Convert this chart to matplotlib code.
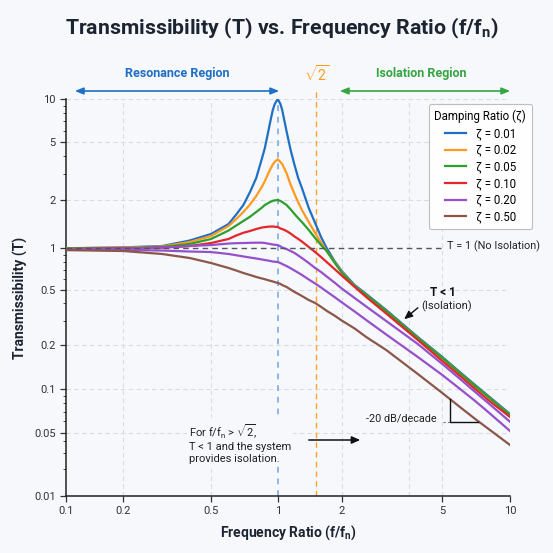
import numpy as np
import matplotlib
matplotlib.use("Agg")
import matplotlib.pyplot as plt
from matplotlib.ticker import FixedLocator, NullFormatter, LogLocator

plt.rcParams['font.family'] = ['Roboto', 'DejaVu Sans']
plt.rcParams['mathtext.fontset'] = 'custom'
plt.rcParams['mathtext.rm'] = 'Roboto'
plt.rcParams['mathtext.it'] = 'Roboto:italic'
plt.rcParams['mathtext.bf'] = 'Roboto:bold'

# ---------------- data ----------------
freq_ratio = [0.1, 0.2, 0.3, 0.4, 0.5, 0.6, 0.65, 0.7, 0.75, 0.8, 0.85, 0.875, 0.9, 0.925, 0.95, 0.97,
              1.0, 1.03, 1.05, 1.1, 1.15, 1.2, 1.25, 1.3, 1.4, 1.5, 1.6, 1.7, 1.85, 2.0, 2.25, 2.5,
              3.0, 4.0, 5.0, 6.0, 7.0, 8.0, 10.0]

T_z001 = [1.0, 1.014, 1.033, 1.118, 1.228, 1.417, 1.624, 1.862, 2.271, 2.836, 3.896, 4.57, 5.62, 6.92, 8.38, 9.23,
          10.0, 9.23, 8.38, 5.99, 4.43, 3.486, 2.822, 2.42, 1.783, 1.438, 1.175, 1.004, 0.810, 0.686, 0.543, 0.468,
          0.3583, 0.2285, 0.1656, 0.1302, 0.1065, 0.0897, 0.0673]
T_z002 = [1.0, 1.011, 1.026, 1.094, 1.193, 1.377, 1.522, 1.684, 1.875, 2.131, 2.478, 2.704, 2.975, 3.246, 3.514, 3.668,
          3.818, 3.657, 3.542, 3.071, 2.558, 2.199, 1.930, 1.733, 1.458, 1.245, 1.090, 0.956, 0.796, 0.674, 0.534, 0.460,
          0.3524, 0.2247, 0.1631, 0.1282, 0.1048, 0.0882, 0.0662]
T_z005 = [0.997, 1.004, 1.019, 1.064, 1.143, 1.291, 1.387, 1.480, 1.573, 1.684, 1.796, 1.862, 1.902, 1.944, 1.977, 1.988,
          2.0, 1.972, 1.944, 1.862, 1.750, 1.636, 1.538, 1.458, 1.30, 1.159, 1.048, 0.956, 0.790, 0.669, 0.534, 0.460,
          0.3524, 0.2247, 0.1631, 0.1282, 0.1048, 0.0882, 0.0662]
T_z010 = [0.988, 0.997, 1.011, 1.033, 1.079, 1.143, 1.202, 1.25, 1.282, 1.319, 1.348, 1.355, 1.363, 1.366, 1.367, 1.363,
          1.358, 1.329, 1.319, 1.282, 1.236, 1.184, 1.143, 1.102, 1.019, 0.94, 0.865, 0.796, 0.709, 0.636, 0.526, 0.4448,
          0.338, 0.2175, 0.1554, 0.1227, 0.100, 0.0839, 0.0642]
T_z020 = [0.988, 0.997, 1.011, 1.033, 1.048, 1.071, 1.076, 1.079, 1.082, 1.084, 1.084, 1.079, 1.071, 1.064, 1.056, 1.052,
          1.048, 1.029, 1.011, 0.988, 0.956, 0.925, 0.887, 0.851, 0.783, 0.721, 0.674, 0.626, 0.566, 0.513, 0.4376, 0.3799,
          0.2983, 0.2033, 0.1483, 0.1171, 0.0954, 0.0801, 0.0595]
T_z020b = [0.98, 0.975, 0.964, 0.948, 0.94, 0.91, 0.891, 0.873, 0.858, 0.844, 0.83, 0.823, 0.817, 0.810, 0.803, 0.80,
           0.796, 0.783, 0.77, 0.745, 0.718, 0.691, 0.666, 0.642, 0.5955, 0.557, 0.521, 0.4876, 0.4448, 0.4074, 0.3496, 0.3032,
           0.2382, 0.1656, 0.1247, 0.100, 0.0827, 0.0694, 0.0514]
T_z050 = [0.97, 0.956, 0.91, 0.851, 0.783, 0.721, 0.691, 0.663, 0.642, 0.621, 0.605, 0.598, 0.59, 0.583, 0.576, 0.57,
          0.562, 0.553, 0.543, 0.526, 0.504, 0.4837, 0.468, 0.4522, 0.423, 0.4027, 0.3773, 0.3535, 0.3264, 0.3008, 0.2633, 0.2285,
          0.1848, 0.1267, 0.0939, 0.0750, 0.0622, 0.0533, 0.0366]

series_labels = ['ζ = 0.01', 'ζ = 0.02', 'ζ = 0.05', 'ζ = 0.10', 'ζ = 0.20', None, 'ζ = 0.50']
series_values = [T_z001, T_z002, T_z005, T_z010, T_z020, T_z020b, T_z050]
series_colors = ['#1f6fc4', '#ff9a1f', '#2ca02c', '#e3262a', '#9650cc', '#9650cc', '#8c564b']

x_ticks = [0.1, 0.2, 0.5, 1, 2, 5, 10]
x_tick_labels = ['0.1', '0.2', '0.5', '1', '2', '5', '10']
y_ticks = [0.01, 0.05, 0.1, 0.2, 0.5, 1, 2, 5, 10]
y_tick_labels = ['0.01', '0.05', '0.1', '0.2', '0.5', '1', '2', '5', '10']

# ---------------- scale (tick placement as in reference) ----------------
x_frac = [0.0, 0.1291, 0.3266, 0.4768, 0.6209, 0.8475, 1.0]
y_frac = [0.0, 0.1594, 0.2695, 0.3804, 0.5189, 0.6239, 0.7456, 0.8909, 1.0]


def make_scale(ticks, fracs):
    lt = np.log10(np.array(ticks, dtype=float))
    fr = np.array(fracs, dtype=float)
    s0 = (fr[1] - fr[0]) / (lt[1] - lt[0])
    s1 = (fr[-1] - fr[-2]) / (lt[-1] - lt[-2])

    def fwd(v):
        v = np.asarray(v, dtype=float)
        lv = np.log10(np.clip(v, 1e-12, None))
        out = np.interp(lv, lt, fr)
        out = np.where(lv < lt[0], fr[0] + (lv - lt[0]) * s0, out)
        out = np.where(lv > lt[-1], fr[-1] + (lv - lt[-1]) * s1, out)
        return out

    def inv(f):
        f = np.asarray(f, dtype=float)
        out = np.interp(f, fr, lt)
        out = np.where(f < fr[0], lt[0] + (f - fr[0]) / s0, out)
        out = np.where(f > fr[-1], lt[-1] + (f - fr[-1]) / s1, out)
        return 10 ** out

    return fwd, inv


W = H = 553
fig = plt.figure(figsize=(W / 100, H / 100), dpi=100)
bg = '#f6f8fb'
fig.patch.set_facecolor(bg)
ax = fig.add_axes([66 / W, (H - 496) / H, 444 / W, 397 / H])
ax.set_facecolor(bg)

ax.set_xscale('function', functions=make_scale(x_ticks, x_frac))
ax.set_yscale('function', functions=make_scale(y_ticks, y_frac))
ax.set_xlim(0.1, 10)
ax.set_ylim(0.01, 10)

# grid
grid_x = [0.2, 0.5, 2, 3.7, 5, 10]
grid_y = [0.05, 0.1, 0.2, 0.5, 2, 5, 10]
for gx in grid_x:
    ax.axvline(gx, color='#d9dce2', lw=0.8, ls=(0, (4, 3)), zorder=0)
for gy in grid_y:
    ax.axhline(gy, color='#d9dce2', lw=0.8, ls=(0, (4, 3)), zorder=0)

# reference lines
ax.axvline(1.0, color='#8fb6e6', lw=1.4, ls=(0, (3, 3)), zorder=1)
ax.axvline(1.52, ymin=0, ymax=1.02, color='#ffa329', lw=1.0, ls=(0, (4, 3)), zorder=2.5, clip_on=False)
ax.axhline(1.0, xmin=0, xmax=0.847, color='#555555', lw=1.0, ls=(0, (4, 3)), zorder=4)

# curves
for vals, lab, col in zip(series_values, series_labels, series_colors):
    ax.plot(freq_ratio, vals, color=col, lw=1.6, label=lab if lab else '_nolegend_', zorder=3,
            solid_joinstyle='round')

# ticks
ax.xaxis.set_major_locator(FixedLocator(x_ticks))
ax.set_xticklabels(x_tick_labels)
ax.xaxis.set_minor_locator(FixedLocator([]))
ax.yaxis.set_major_locator(FixedLocator(y_ticks))
ax.set_yticklabels(y_tick_labels)
ax.yaxis.set_minor_locator(LogLocator(base=10, subs=np.arange(2, 10)))
ax.yaxis.set_minor_formatter(NullFormatter())
ax.tick_params(axis='both', which='major', labelsize=8, colors='#333333', length=4, width=0.9)
ax.tick_params(axis='y', which='minor', length=2, width=0.6, colors='#333333')
for s in ['top', 'right']:
    ax.spines[s].set_visible(False)
for s in ['left', 'bottom']:
    ax.spines[s].set_color('#222222')
    ax.spines[s].set_linewidth(1.1)

# labels & title
fig.text(282 / W, 1 - 28 / H, r'Transmissibility (T) vs. Frequency Ratio (f/f$_\mathregular{n}$)',
         ha='center', va='center', fontsize=15.3, fontweight='bold', color='#1b2430')
ax.set_xlabel(r'Frequency Ratio (f/f$_\mathregular{n}$)', fontsize=10, fontweight='bold',
              color='#1b2430', labelpad=5)
ax.set_ylabel('Transmissibility (T)', fontsize=10, fontweight='bold', color='#1b2430', labelpad=4)


def fx(px):
    return (px - 66) / 444


def fy(py):
    return (496 - py) / 397


# region arrows
ax.annotate('', xy=(fx(72), fy(91)), xytext=(fx(282), fy(91)), xycoords='axes fraction',
            arrowprops=dict(arrowstyle='<|-|>,head_length=0.5,head_width=0.2', color='#1f6fc4', lw=1.2),
            annotation_clip=False)
ax.text(fx(177), fy(74), 'Resonance Region', transform=ax.transAxes, ha='center', va='center',
        fontsize=9, fontweight='bold', color='#1f6fc4')
ax.annotate('', xy=(fx(337), fy(91)), xytext=(fx(513), fy(91)), xycoords='axes fraction',
            arrowprops=dict(arrowstyle='<|-|>,head_length=0.5,head_width=0.2', color='#36a543', lw=1.2),
            annotation_clip=False)
ax.text(fx(421), fy(74), 'Isolation Region', transform=ax.transAxes, ha='center', va='center',
        fontsize=9, fontweight='bold', color='#36a543')
ax.text(fx(317), fy(74), r'$\sqrt{2}$', transform=ax.transAxes, ha='center', va='center',
        fontsize=10, color='#ff9a1f')

ax.text(fx(447), fy(246), 'T = 1 (No Isolation)', transform=ax.transAxes, ha='left', va='center',
        fontsize=7.8, color='#222222', clip_on=False)

# T < 1 annotation
ax.text(fx(443), fy(292), 'T < 1', transform=ax.transAxes, ha='center', va='center',
        fontsize=8.5, fontweight='bold', color='#111111')
ax.text(fx(447), fy(306), '(Isolation)', transform=ax.transAxes, ha='center', va='center',
        fontsize=8, color='#222222')
ax.annotate('', xy=(fx(402), fy(321)), xytext=(fx(420), fy(306)), xycoords='axes fraction',
            arrowprops=dict(arrowstyle='-|>,head_length=0.5,head_width=0.22', color='#111111', lw=1.0))

# isolation note
ax.text(fx(189), fy(443), 'For f/f$_\\mathregular{n}$ > $\\sqrt{2}$,\nT < 1 and the system\nprovides isolation.',
        transform=ax.transAxes, ha='left', va='center', fontsize=8, color='#222222', linespacing=1.2,
        zorder=2, bbox=dict(facecolor=bg, edgecolor='none', pad=1.5))
ax.annotate('', xy=(fx(363), fy(440)), xytext=(fx(306), fy(440)), xycoords='axes fraction',
            arrowprops=dict(arrowstyle='-|>,head_length=0.5,head_width=0.22', color='#111111', lw=1.1))

# slope triangle
ax.plot([5.41, 5.41, 7.21], [0.0853, 0.0593, 0.0593], color='#111111', lw=1.0, zorder=4)
ax.plot([5.05, 5.41], [0.0593, 0.0593], color='#777777', lw=0.8, ls=(0, (2, 2)), zorder=4)
ax.text(fx(437), fy(419), '-20 dB/decade', transform=ax.transAxes, ha='right', va='center',
        fontsize=7.8, color='#222222')

# legend
leg = ax.legend(title='Damping Ratio (ζ)', loc='upper right', bbox_to_anchor=(fx(532), fy(104)),
                borderaxespad=0, fontsize=8.3, title_fontsize=8.3, frameon=True, fancybox=True,
                edgecolor='#bbbbbb', facecolor='white', framealpha=0.95, handlelength=1.8,
                handletextpad=0.85, labelspacing=0.32, borderpad=0.5)
leg.get_frame().set_linewidth(0.8)

fig.savefig('out.png', dpi=100, facecolor=bg)
